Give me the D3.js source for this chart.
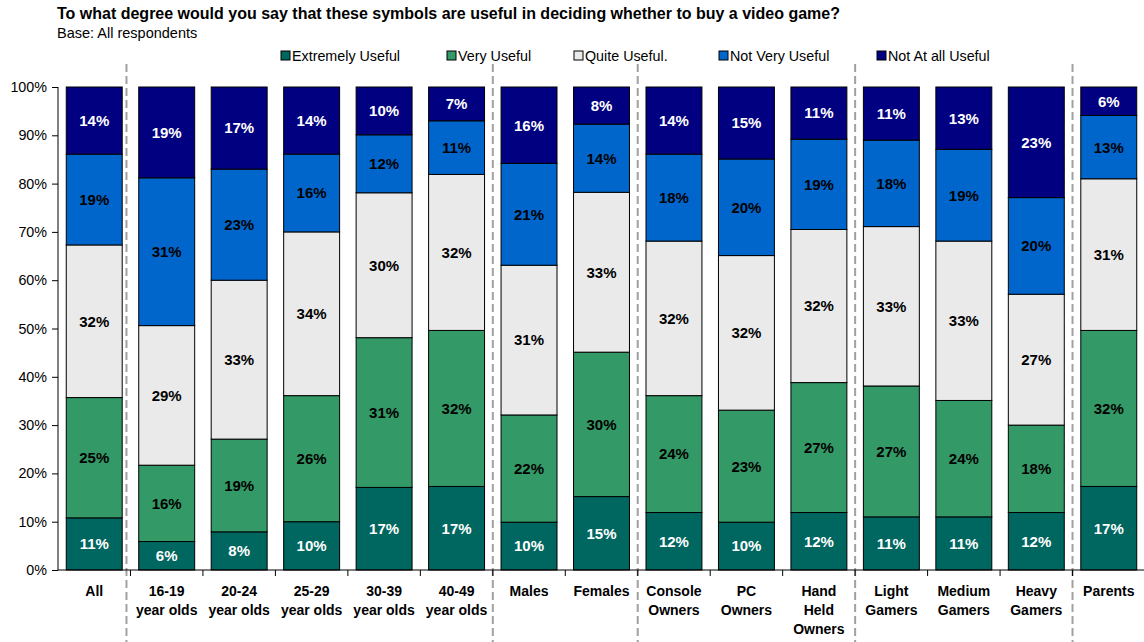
<!DOCTYPE html>
<html><head><meta charset="utf-8">
<script src="https://cdn.jsdelivr.net/npm/d3@7"></script>
<style>
html,body{margin:0;padding:0;background:#fff;}
svg{display:block;font-family:"Liberation Sans",Arial,sans-serif;}
</style></head>
<body><svg id="c" width="1144" height="642"></svg>
<script>
const categories = ["All","16-19 year olds","20-24 year olds","25-29 year olds","30-39 year olds","40-49 year olds","Males","Females","Console Owners","PC Owners","Hand Held Owners","Light Gamers","Medium Gamers","Heavy Gamers","Parents"];
const categoryLines = [["All"],["16-19","year olds"],["20-24","year olds"],["25-29","year olds"],["30-39","year olds"],["40-49","year olds"],["Males"],["Females"],["Console","Owners"],["PC","Owners"],["Hand","Held","Owners"],["Light","Gamers"],["Medium","Gamers"],["Heavy","Gamers"],["Parents"]];
const seriesNames = ["Extremely Useful","Very Useful","Quite Useful.","Not Very Useful","Not At all Useful"];
const extremelyUseful = [10.8,5.9,7.9,10.0,17.1,17.3,9.9,15.2,11.9,9.9,11.9,11.0,11.0,11.9,17.3];
const veryUseful      = [24.9,15.8,19.2,26.1,31.0,32.3,22.2,29.9,24.2,23.2,26.9,27.1,24.1,18.1,32.3];
const quiteUseful     = [31.6,28.9,32.9,33.9,30.0,32.3,31.0,33.1,32.0,32.0,31.7,33.0,33.0,27.1,31.4];
const notVeryUseful   = [18.8,30.6,23.0,16.1,12.0,11.1,21.1,14.1,18.0,20.0,18.7,17.9,19.0,20.0,13.1];
const notAtAllUseful  = [13.9,18.8,17.0,13.9,9.9,7.0,15.8,7.7,13.9,14.9,10.8,11.0,12.9,22.9,5.9];
const yTicks = [0,10,20,30,40,50,60,70,80,90,100];
const separatorsAfter = ["All","40-49 year olds","Females","Hand Held Owners","Heavy Gamers"];

const seriesValues = [extremelyUseful, veryUseful, quiteUseful, notVeryUseful, notAtAllUseful];
const colors = ["#006660","#339966","#EAEAEA","#0066CC","#000080"];
const labelColors = ["#fff","#000","#000","#000","#fff"];

const svg = d3.select("#c");
const x = d3.scaleBand().domain(categories).range([58,1145]).paddingInner(0.228).paddingOuter(0.114);
const y = d3.scaleLinear().domain([0,100]).range([570,87]);
const step = x.step();
const half = step*x.paddingInner()/2;

// title
svg.append("text").attr("x",57).attr("y",19).attr("font-size",16).attr("font-weight","bold")
  .text("To what degree would you say that these symbols are useful in deciding whether to buy a video game?");
svg.append("text").attr("x",57).attr("y",38).attr("font-size",14.5)
  .text("Base: All respondents");

// separators
const sepX = separatorsAfter.map((c,i)=> x(c)+x.bandwidth()+half - (i===0?4:0));
svg.selectAll("line.sep").data(sepX).join("line").attr("class","sep")
  .attr("x1",d=>d).attr("x2",d=>d).attr("y1",64).attr("y2",642)
  .attr("stroke","#A0A0A0").attr("stroke-width",2).attr("stroke-dasharray","8,4");

// stack data
const rows = categories.map((c,i)=>{const o={cat:c}; seriesNames.forEach((s,j)=>o[s]=seriesValues[j][i]); return o;});
const stacked = d3.stack().keys(seriesNames)(rows);

const g = svg.append("g");
stacked.forEach((layer,j)=>{
  const gl = g.append("g");
  gl.selectAll("rect").data(layer).join("rect")
    .attr("x",d=>x(d.data.cat)).attr("width",x.bandwidth())
    .attr("y",d=>y(d[1])).attr("height",d=>y(d[0])-y(d[1]))
    .attr("fill",colors[j]).attr("stroke","#000").attr("stroke-width",1);
  gl.selectAll("text").data(layer).join("text")
    .attr("x",d=>x(d.data.cat)+x.bandwidth()/2)
    .attr("y",d=>(y(d[0])+y(d[1]))/2)
    .attr("dy","0.36em").attr("text-anchor","middle")
    .attr("font-size",15).attr("font-weight","bold").attr("fill",labelColors[j])
    .text(d=>Math.round(d[1]-d[0])+"%");
});

// y axis
const yAxis = d3.axisLeft(y).tickValues(yTicks).tickSize(6).tickPadding(5).tickFormat(d=>d+"%");
const ya = svg.append("g").attr("transform","translate(58,0)").call(yAxis);
ya.select(".domain").attr("stroke","#000").attr("d","M0,87V570");
ya.selectAll(".tick line").attr("stroke","#000");
ya.selectAll("text").attr("font-size",14.3).attr("font-family","'Liberation Sans',Arial,sans-serif").attr("fill","#000");

// x axis
svg.append("line").attr("x1",58).attr("x2",1144).attr("y1",570).attr("y2",570).attr("stroke","#000");
const bounds = categories.map(c=>x(c)+x.bandwidth()+half);
svg.selectAll("line.xt").data(bounds).join("line").attr("class","xt")
  .attr("x1",d=>d).attr("x2",d=>d).attr("y1",570).attr("y2",576).attr("stroke","#000");

const xl = svg.append("g");
categories.forEach((c,i)=>{
  const t = xl.append("text").attr("x",x(c)+x.bandwidth()/2).attr("y",596)
    .attr("text-anchor","middle").attr("font-size",14).attr("font-weight","bold");
  categoryLines[i].forEach((ln,k)=>{
    t.append("tspan").attr("x",x(c)+x.bandwidth()/2).attr("y",596+k*19).text(ln);
  });
});

// legend
const legX = [281,447,574,719,877];
const lg = svg.append("g");
seriesNames.forEach((s,j)=>{
  lg.append("rect").attr("x",legX[j]).attr("y",51).attr("width",9).attr("height",9)
    .attr("fill",colors[j]).attr("stroke","#000").attr("stroke-width",1);
  lg.append("text").attr("x",legX[j]+11).attr("y",61).attr("font-size",14.3).text(s);
});
</script></body></html>
